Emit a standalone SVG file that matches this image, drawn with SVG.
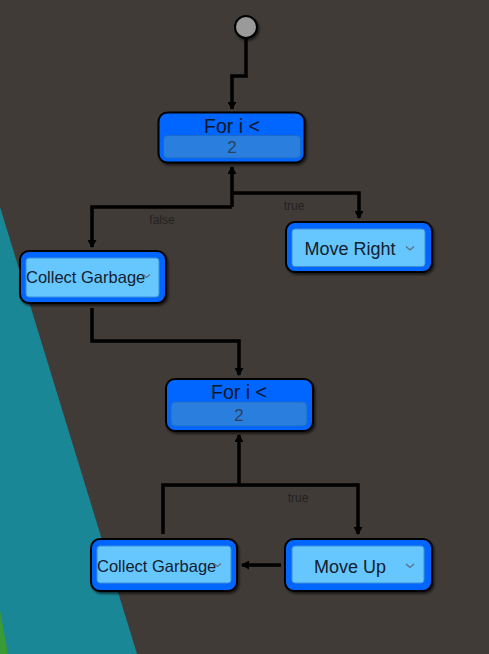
<svg xmlns="http://www.w3.org/2000/svg" width="489" height="654" viewBox="0 0 489 654">
<style>
.node{fill:#0066ff;stroke:#000;stroke-width:2;filter:url(#sh)}
.act{fill:#66c7ff;stroke:#3d8fd6;stroke-width:1}
.num{fill:#2a7fde;stroke:#1f6ac8;stroke-width:1}
.ttl{font-family:"Liberation Sans",Arial,sans-serif;font-size:19.5px;fill:#0d1626;text-anchor:middle}
.val{font-family:"Liberation Sans",Arial,sans-serif;font-size:17px;fill:#2c3f5c;text-anchor:middle}
.lbl{font-family:"Liberation Sans",Arial,sans-serif;font-size:18px;fill:#14202e;text-anchor:middle}
.lbs{font-family:"Liberation Sans",Arial,sans-serif;font-size:16.5px;fill:#14202e}
.chev{fill:none;stroke:#5a6c80;stroke-width:1.2}
.edge{fill:none;stroke:#000;stroke-width:3.5}
.elbl{font-family:"Liberation Sans",Arial,sans-serif;font-size:12px;fill:#222;text-anchor:middle}
</style>
<defs>
<filter id="sh" x="-10%" y="-10%" width="130%" height="140%">
<feDropShadow dx="1.5" dy="2" stdDeviation="1.2" flood-color="#000" flood-opacity="0.6"/>
</filter>
<marker id="ah" markerUnits="userSpaceOnUse" markerWidth="9" markerHeight="9" refX="7" refY="4.5" orient="auto">
<path d="M0,0 L8,4.5 L0,9 z" fill="#000"/>
</marker>
</defs>
<rect width="489" height="654" fill="#403b37"/>
<polygon points="0,207 137,654 0,654" fill="#1a8797"/>
<polygon points="0,610 8,654 0,654" fill="#3a9a35"/>

<g id="connectors">
<path class="edge" d="M246,38 V76 H232 V109" marker-end="url(#ah)"/>
<path class="edge" d="M232,207 V167" marker-end="url(#ah)"/>
<path class="edge" d="M232,193 H359 V218" marker-end="url(#ah)"/>
<path class="edge" d="M232,207 H92 V247" marker-end="url(#ah)"/>
<text class="elbl" x="294" y="210">true</text>
<text class="elbl" x="162" y="224">false</text>
<path class="edge" d="M92,308 V341 H239 V375" marker-end="url(#ah)"/>
<path class="edge" d="M239,485 V435" marker-end="url(#ah)"/>
<path class="edge" d="M163,534 V485 H358 V534" marker-end="url(#ah)"/>
<text class="elbl" x="298" y="502">true</text>
<path class="edge" d="M281,565 H242" marker-end="url(#ah)"/>
</g>

<g id="start">
<circle cx="246" cy="27" r="11" fill="#9a9a9a" stroke="#000" stroke-width="2" filter="url(#sh)"/>
</g>

<g id="for1">
<rect class="node" x="158.5" y="112.5" width="146" height="50" rx="9"/>
<rect class="num" x="163.5" y="135.5" width="137" height="22.5" rx="4"/>
<text class="ttl" x="232" y="133">For i &lt;</text>
<text class="val" x="232" y="153">2</text>
</g>

<g id="moveRight">
<rect class="node" x="286" y="222" width="146" height="50" rx="9"/>
<rect class="act" x="292" y="229" width="133" height="37.5" rx="3"/>
<text class="lbl" x="350" y="254.5">Move Right</text>
<path class="chev" d="M406,246.5 L410,250 L414,246.5"/>
</g>

<g id="collect1">
<rect class="node" x="20" y="251" width="146" height="52" rx="9"/>
<rect class="act" x="26" y="258" width="133" height="39" rx="3"/>
<text class="lbs" x="26" y="283">Collect Garbage</text>
<path class="chev" d="M143,274.5 L146.5,277.5 L150,274.5"/>
</g>

<g id="for2">
<rect class="node" x="166" y="379" width="147" height="52" rx="9"/>
<rect class="num" x="171" y="402" width="136" height="24" rx="4"/>
<text class="ttl" x="239" y="399">For i &lt;</text>
<text class="val" x="239" y="421">2</text>
</g>

<g id="collect2">
<rect class="node" x="91" y="539" width="146" height="52" rx="9"/>
<rect class="act" x="97" y="546" width="134" height="37" rx="3"/>
<text class="lbs" x="97" y="572">Collect Garbage</text>
<path class="chev" d="M214,563.5 L217.5,566.5 L221,563.5"/>
</g>

<g id="moveUp">
<rect class="node" x="285" y="539" width="147" height="52" rx="9"/>
<rect class="act" x="292" y="546" width="132" height="37" rx="3"/>
<text class="lbl" x="350" y="572.5">Move Up</text>
<path class="chev" d="M406,564 L410,567.5 L414,564"/>
</g>
</svg>
